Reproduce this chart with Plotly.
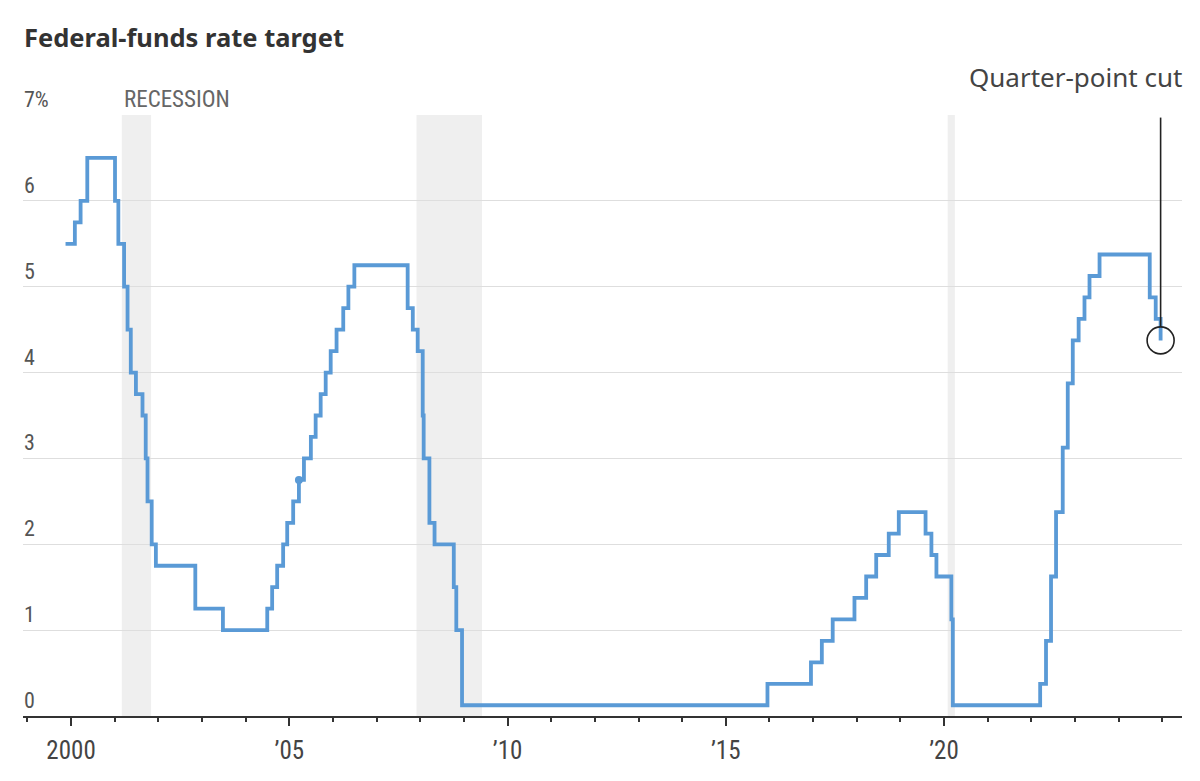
import plotly.graph_objects as go

# Federal-funds rate target (midpoint of range after 2008), change dates
dates = [
    "1999-11-16", "2000-02-02", "2000-03-21", "2000-05-16",
    "2001-01-03", "2001-01-31", "2001-03-20", "2001-04-18", "2001-05-15",
    "2001-06-27", "2001-08-21", "2001-09-17", "2001-10-02", "2001-11-06",
    "2001-12-11", "2002-11-06", "2003-06-25", "2004-06-30", "2004-08-10",
    "2004-09-21", "2004-11-10", "2004-12-14", "2005-02-02", "2005-03-22",
    "2005-05-03", "2005-06-30", "2005-08-09", "2005-09-20", "2005-11-01",
    "2005-12-13", "2006-01-31", "2006-03-28", "2006-05-10", "2006-06-29",
    "2007-09-18", "2007-10-31", "2007-12-11", "2008-01-22", "2008-01-30",
    "2008-03-18", "2008-04-30", "2008-10-08", "2008-10-29", "2008-12-16",
    "2015-12-16", "2016-12-14", "2017-03-15", "2017-06-14", "2017-12-13",
    "2018-03-21", "2018-06-13", "2018-09-26", "2018-12-19", "2019-07-31",
    "2019-09-18", "2019-10-30", "2020-03-03", "2020-03-15", "2022-03-16",
    "2022-05-04", "2022-06-15", "2022-07-27", "2022-09-21", "2022-11-02",
    "2022-12-14", "2023-02-01", "2023-03-22", "2023-05-03", "2023-07-26",
    "2024-09-18", "2024-11-07", "2024-12-18",
]
rates = [
    5.50, 5.75, 6.00, 6.50,
    6.00, 5.50, 5.00, 4.50, 4.00,
    3.75, 3.50, 3.00, 2.50, 2.00,
    1.75, 1.25, 1.00, 1.25, 1.50,
    1.75, 2.00, 2.25, 2.50, 2.75,
    3.00, 3.25, 3.50, 3.75, 4.00,
    4.25, 4.50, 4.75, 5.00, 5.25,
    4.75, 4.50, 4.25, 3.50, 3.00,
    2.25, 2.00, 1.50, 1.00, 0.125,
    0.375, 0.625, 0.875, 1.125, 1.375,
    1.625, 1.875, 2.125, 2.375, 2.125,
    1.875, 1.625, 1.125, 0.125, 0.375,
    0.875, 1.625, 2.375, 3.125, 3.875,
    4.375, 4.625, 4.875, 5.125, 5.375,
    4.875, 4.625, 4.375,
]

recession_starts = ["2001-03-01", "2007-12-01", "2020-02-01"]
recession_ends = ["2001-11-01", "2009-06-01", "2020-04-01"]

x_tick_vals = ["2000-01-01", "2005-01-01", "2010-01-01", "2015-01-01", "2020-01-01"]
x_tick_text = ["2000", "’05", "’10", "’15", "’20"]
y_tick_vals = [0, 1, 2, 3, 4, 5, 6, 7]
y_tick_text = ["0", "1", "2", "3", "4", "5", "6", "7%"]

dot_date = ["2005-03-22"]
dot_rate = [2.75]
cut_date = ["2024-12-18"]
cut_rate = [4.375]

BLUE = "#5a9ad6"
NARROW = "Liberation Sans Narrow, Roboto Condensed, Arial Narrow, sans-serif"

fig = go.Figure()
fig.add_trace(go.Scatter(
    x=dates, y=rates, mode="lines", line=dict(shape="hv", color=BLUE, width=3.8),
    hoverinfo="skip", showlegend=False,
))
fig.add_trace(go.Scatter(
    x=dot_date, y=dot_rate, mode="markers",
    marker=dict(color=BLUE, size=8), hoverinfo="skip", showlegend=False,
))
fig.add_trace(go.Scatter(
    x=cut_date, y=cut_rate, mode="markers",
    marker=dict(symbol="circle-open", size=27, color="#222", line=dict(width=1.6)),
    hoverinfo="skip", showlegend=False,
))

shapes = []
for s, e in zip(recession_starts, recession_ends):
    shapes.append(dict(type="rect", xref="x", yref="y", x0=s, x1=e, y0=0, y1=7,
                       fillcolor="#efefef", line=dict(width=0), layer="below"))
shapes.append(dict(type="line", xref="x", yref="y", x0=cut_date[0], x1=cut_date[0],
                   y0=cut_rate[0] + 0.16, y1=6.97, line=dict(color="#222", width=1.6)))

annotations = [
    dict(text="<b>Federal-funds rate target</b>", xref="paper", yref="paper",
         x=0, y=1.13, xanchor="left", yanchor="middle", showarrow=False, xshift=-1,
         font=dict(family="Noto Sans, sans-serif", size=25.5, color="#333")),
    dict(text="RECESSION", xref="x", yref="y", x=recession_starts[0], y=7,
         xanchor="left", yanchor="bottom", yshift=0, showarrow=False,
         font=dict(family=NARROW, size=23, color="#666")),
    dict(text="Quarter-point cut", xref="paper", yref="paper", x=1, y=1.064,
         xanchor="right", yanchor="middle", showarrow=False, xshift=2,
         font=dict(family="Noto Sans, sans-serif", size=26, color="#444")),
]
for v, t in zip(y_tick_vals, y_tick_text):
    annotations.append(dict(text=t, xref="paper", yref="y", x=0, y=v,
                            xanchor="left", yanchor="bottom", xshift=-1, yshift=1,
                            showarrow=False,
                            font=dict(family=NARROW, size=22, color="#555")))

fig.update_layout(
    width=1192, height=773,
    margin=dict(l=15, r=18, t=107, b=65),
    paper_bgcolor="white", plot_bgcolor="white",
    shapes=shapes, annotations=annotations,
    xaxis=dict(
        type="date", range=["1998-11-25", "2025-06-15"],
        tickmode="array", tickvals=x_tick_vals, ticktext=x_tick_text,
        ticks="outside", ticklen=8, tickwidth=1.5, tickcolor="#333",
        showline=True, linecolor="#333", linewidth=2,
        showgrid=False, zeroline=False, ticklabelstandoff=3,
        tickfont=dict(family=NARROW, size=25, color="#444"),
        minor=dict(dtick="M12", tick0="2000-01-01", ticks="outside", ticklen=4,
                   tickwidth=1.5, tickcolor="#333", showgrid=False),
    ),
    yaxis=dict(
        range=[0, 7], tickvals=y_tick_vals, showticklabels=False,
        showgrid=True, gridcolor="#dedede", gridwidth=1.2,
        zeroline=False, showline=False, ticks="",
    ),
)

fig.write_html("out.html")
